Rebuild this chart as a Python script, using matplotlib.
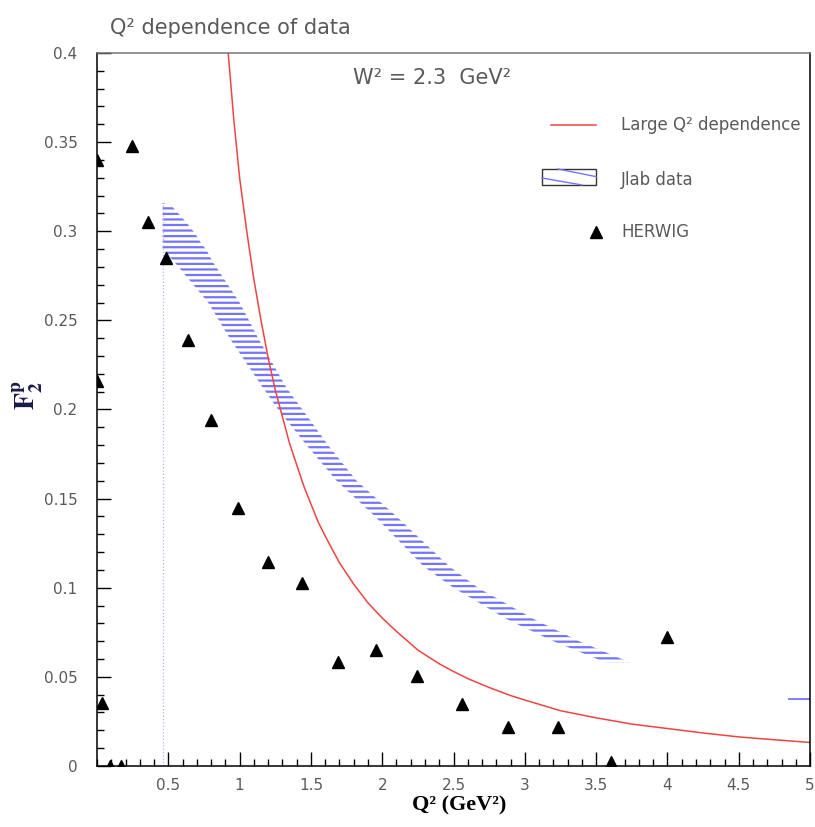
import matplotlib
matplotlib.use("Agg")
import matplotlib.pyplot as plt
from matplotlib.patches import Rectangle
from matplotlib.lines import Line2D
from matplotlib.ticker import MultipleLocator

plt.rcParams['hatch.linewidth'] = 1.6
plt.rcParams['mathtext.fontset'] = 'stix'

# HERWIG points (Q2, F2p)
herwig_q2 = [0.0, 0.0, 0.035, 0.09, 0.17, 0.245, 0.358, 0.484, 0.638, 0.80,
             0.989, 1.20, 1.438, 1.69, 1.957, 2.244, 2.56, 2.882, 3.233, 3.604, 3.997]
herwig_f2 = [0.340, 0.216, 0.0353, 0.0, 0.0, 0.348, 0.305, 0.285, 0.239, 0.194,
             0.1447, 0.1144, 0.1027, 0.0583, 0.0651, 0.0505, 0.0348, 0.0219, 0.0219, 0.0022, 0.0724]

# large Q2 dependence curve
curve_q2 = [0.92, 0.96, 1.0, 1.05, 1.1, 1.15, 1.2, 1.25, 1.3, 1.35, 1.4, 1.45, 1.5,
            1.55, 1.6, 1.7, 1.8, 1.9, 2.0, 2.1, 2.25, 2.4, 2.5, 2.6, 2.75, 2.9, 3.0,
            3.25, 3.5, 3.75, 4.0, 4.25, 4.5, 4.75, 5.0]
curve_f2 = [0.400, 0.362, 0.330, 0.300, 0.273, 0.250, 0.229, 0.211, 0.196, 0.181,
            0.169, 0.157, 0.147, 0.137, 0.129, 0.114, 0.102, 0.0915, 0.083, 0.0755,
            0.065, 0.0573, 0.053, 0.049, 0.044, 0.0395, 0.037, 0.031, 0.027, 0.0235,
            0.021, 0.0185, 0.0163, 0.0147, 0.0132]

# Jlab band: left and right edges at given F2 levels
band_f2 = [0.058, 0.07, 0.0825, 0.1, 0.112, 0.14, 0.16, 0.18, 0.2, 0.212, 0.24, 0.26,
           0.283, 0.29, 0.292, 0.2985, 0.3046, 0.31, 0.3136, 0.316]
band_left = [3.57, 3.2, 2.87, 2.5, 2.29, 1.95, 1.68, 1.47, 1.27, 1.165, 0.93, 0.78,
             0.54, 0.46, 0.46, 0.46, 0.46, 0.46, 0.46, 0.46]
band_right = [3.74, 3.38, 3.06, 2.67, 2.47, 2.1, 1.82, 1.62, 1.44, 1.33, 1.13, 1.0,
              0.81, 0.765, 0.74, 0.69, 0.63, 0.57, 0.53, 0.46]
band_x0 = 0.46
band_top = 0.316

# short Jlab piece at the right edge
edge_q2 = [4.85, 5.0]
edge_f2 = [0.0376, 0.0376]

xticks = [0.5, 1, 1.5, 2, 2.5, 3, 3.5, 4, 4.5, 5]
xticklabels = ['0.5', '1', '1.5', '2', '2.5', '3', '3.5', '4', '4.5', '5']
yticks = [0, 0.05, 0.1, 0.15, 0.2, 0.25, 0.3, 0.35, 0.4]
yticklabels = ['0', '0.05', '0.1', '0.15', '0.2', '0.25', '0.3', '0.35', '0.4']

grey = '#5a5a5a'
blue = '#7474ff'
red = '#ee4444'

fig = plt.figure(figsize=(8.15, 8.27), dpi=100)
ax = fig.add_axes([0.119, 0.0738, 0.875, 0.8621])

ax.fill_betweenx(band_f2, band_left, band_right, facecolor='none',
                 edgecolor=blue, linewidth=0, hatch='---')
ax.plot([band_x0, band_x0], [0, band_top], ls=':', color='#b0b0ff', lw=0.9)
ax.plot(edge_q2, edge_f2, color=blue, lw=1.3)
ax.plot(curve_q2, curve_f2, color=red, lw=1.1)
ax.plot(herwig_q2, herwig_f2, '^', color='black', ms=8.5, ls='none')

ax.set_xlim(0, 5)
ax.set_ylim(0, 0.4)
ax.set_xticks(xticks)
ax.set_xticklabels(xticklabels)
ax.set_yticks(yticks)
ax.set_yticklabels(yticklabels)
ax.xaxis.set_minor_locator(MultipleLocator(0.1))
ax.yaxis.set_minor_locator(MultipleLocator(0.01))
ax.tick_params(which='both', direction='in', top=False, right=False, width=1.0)
ax.tick_params(which='major', length=10)
ax.tick_params(which='minor', length=5)
ax.tick_params(axis='y', pad=14, labelsize=11, labelcolor=grey)
ax.tick_params(axis='x', pad=9, labelsize=11, labelcolor=grey)
for s in ax.spines.values():
    s.set_linewidth(1.1)
ax.spines['top'].set_color('#777777')

# texts
fig.text(110 / 815, 1 - 28 / 827, 'Q² dependence of data', fontsize=15,
         color=grey, ha='left', va='center')
ax.text(0.47, 0.965, 'W² = 2.3  GeV²', transform=ax.transAxes, fontsize=15,
        color=grey, ha='center', va='center')
fig.text(459 / 815, 1 - 805 / 827, 'Q² (GeV²)', fontsize=16, fontweight='bold',
         family='Liberation Serif', ha='center', va='center')
fig.text(28 / 815, 1 - 395 / 827, r'$\mathbf{F_2^p}$', fontsize=20, color='#1a1a4a',
         rotation=90, ha='center', va='center')

# legend, drawn by hand
ax.add_line(Line2D([0.637, 0.700], [0.899, 0.899], transform=ax.transAxes, color=red, lw=1.1))
ax.text(0.735, 0.899, 'Large Q² dependence', transform=ax.transAxes, fontsize=12,
        color=grey, va='center', clip_on=False)
ax.add_patch(Rectangle((0.6241, 0.8149), 0.0758, 0.0224, transform=ax.transAxes,
                       facecolor='none', edgecolor='#333333', lw=1.0))
ax.add_line(Line2D([0.624, 0.680], [0.8247, 0.8149], transform=ax.transAxes, color=blue, lw=1.0))
ax.add_line(Line2D([0.6466, 0.6999], [0.8373, 0.8266], transform=ax.transAxes, color=blue, lw=1.0))
ax.text(0.735, 0.822, 'Jlab data', transform=ax.transAxes, fontsize=12,
        color=grey, va='center')
ax.plot([0.700], [0.749], '^', color='black', ms=8.5, transform=ax.transAxes)
ax.text(0.735, 0.749, 'HERWIG', transform=ax.transAxes, fontsize=12,
        color=grey, va='center')

fig.savefig('out.png', dpi=100)
